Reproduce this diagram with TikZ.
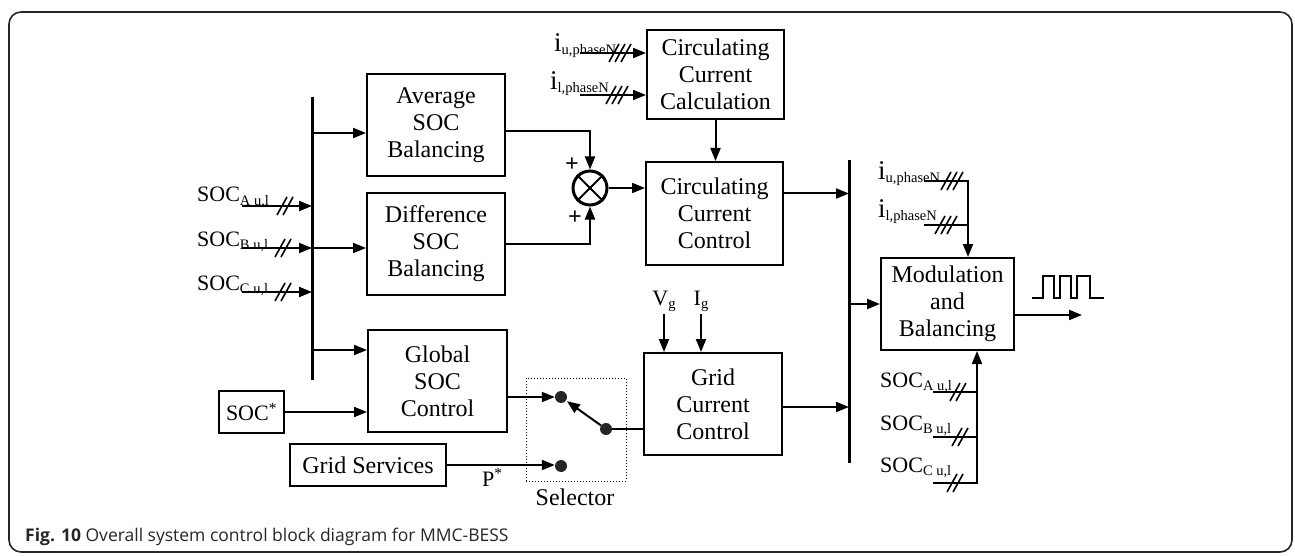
\documentclass[tikz,border=0pt]{standalone}
\usepackage{fontspec}
\setmainfont{Liberation Serif}
\newfontfamily\capfont{Open Sans}
\usetikzlibrary{arrows.meta,calc}
\tikzset{
  blk/.style={draw, line width=2pt, align=center, inner sep=0pt,
    font=\fontsize{24}{27}\selectfont},
  arr/.style={line width=2pt, -{Triangle[length=13pt,width=10pt]}},
  wire/.style={line width=2pt},
  bus/.style={line width=3pt},
  dot/.style={circle, fill=black!85, inner sep=0pt, minimum size=12pt},
  lbl/.style={inner sep=0pt, font=\fontsize{22}{22}\selectfont},
  ilbl/.style={inner sep=0pt, font=\fontsize{27}{27}\selectfont},
  hatchline/.style={line width=1.6pt}
}
\newcommand{\lowsub}[1]{\raisebox{-3pt}{\fontsize{14.5}{14.5}\selectfont #1}}
\newcommand{\hatchmarks}[3]{%
  \foreach \k [evaluate=\k as \dx using {(\k-1)*6-(#3-1)*3}] in {1,...,#3}
    \draw[hatchline] ($(#1,#2)+(\dx,0)+(-5,9)$) -- ++(10,-18);}
\begin{document}
\begin{tikzpicture}[x=1pt,y=-1pt]
\useasboundingbox (0,0) rectangle (1295,556);
\draw[line width=1.6pt, rounded corners=12pt, black!85] (9,12) rectangle (1292,552);

% left bus and SOC blocks
\coordinate (b1t) at (312,97);
\coordinate (b1b) at (312,380);
\draw[bus] (b1t) -- (b1b);
\node[blk, minimum width=138pt, minimum height=102pt] (avg) at (436,125) {Average\\SOC\\Balancing};
\node[blk, minimum width=138pt, minimum height=102pt] (diff) at (436,244) {Difference\\SOC\\Balancing};
\node[blk, minimum width=139pt, minimum height=102pt] (glob) at (437.5,381) {Global\\SOC\\Control};
\node[blk, minimum width=65pt, minimum height=42pt, font=\fontsize{22}{22}\selectfont] (socref) at (251.5,412) {SOC\textsuperscript{*}};
\node[blk, minimum width=156pt, minimum height=42pt] (gserv) at (368,465) {Grid Services};

\node[lbl, anchor=base west] (socA) at (197,202) {SOC\lowsub{A u,l}};
\node[lbl, anchor=base west] (socB) at (197,246) {SOC\lowsub{B u,l}};
\node[lbl, anchor=base west] (socC) at (197,290) {SOC\lowsub{C u,l}};
\coordinate (sa) at (242,206);
\coordinate (sb) at (242,248);
\coordinate (sc) at (242,292);
\draw[arr] (sa) -- (sa -| b1t);
\draw[arr] (sb) -- (sb -| b1t);
\draw[arr] (sc) -- (sc -| b1t);
\hatchmarks{285}{206}{2}
\hatchmarks{283}{248}{2}
\hatchmarks{283}{292}{2}

\coordinate (a0) at ([yshift=-8pt]avg.west);
\coordinate (d0) at ([yshift=-4pt]diff.west);
\coordinate (g0) at ([yshift=31pt]glob.west);
\draw[arr] (a0 -| b1t) -- (a0);
\draw[arr] (d0 -| b1t) -- (d0);
\draw[arr] (g0 -| b1t) -- (g0);
\draw[arr] (socref.east) -- (socref.east -| glob.west);

% summing junction
\node[circle, draw, line width=3pt, minimum size=34pt, inner sep=0pt] (sum) at (590,188) {};
\draw[wire] (sum.north west) -- (sum.south east);
\draw[wire] (sum.north east) -- (sum.south west);
\coordinate (a1) at ([yshift=-6pt]avg.east);
\draw[arr] (a1) -| (sum.north);
\draw[arr] (diff.east) -| (sum.south);
\node[font=\fontsize{24}{24}\selectfont\bfseries] (plus1) at (572,165) {+};
\node[font=\fontsize{24}{24}\selectfont\bfseries] (plus2) at (575,218) {+};

% circulating current
\node[blk, minimum width=137pt, minimum height=89pt] (calc) at (715.5,74.5) {Circulating\\Current\\Calculation};
\node[blk, minimum width=137pt, minimum height=103pt] (ccc) at (714.5,213.5) {Circulating\\Current\\Control};
\node[ilbl, anchor=base west] (iu) at (554,52) {i\lowsub{u,phaseN}};
\node[ilbl, anchor=base west] (il) at (550,90) {i\lowsub{l,phaseN}};
\coordinate (cu) at (580,53);
\coordinate (cl) at (580,95);
\draw[arr] (cu) -- (cu -| calc.west);
\draw[arr] (cl) -- (cl -| calc.west);
\hatchmarks{620}{53}{3}
\hatchmarks{617}{95}{3}
\draw[arr] (calc.south) -- (calc.south |- ccc.north);
\draw[arr] (sum.east) -- (sum.east -| ccc.west);

% selector
\node[draw, dotted, line width=1pt, minimum width=100pt, minimum height=103pt] (sel) at (576,429.5) {};
\node[font=\fontsize{24}{24}\selectfont] (sellbl) at (575,497) {Selector};
\node[dot] (dup) at (561,397) {};
\node[dot] (dlo) at (561,466) {};
\node[dot] (piv) at (606,429) {};
\node[lbl, anchor=base west] (pstar) at (482,486) {P\textsuperscript{*}};
\coordinate (g3) at ([yshift=-16pt]glob.east);
\draw[arr] (g3) -- (g3 -| dup.west);
\draw[arr] (gserv.east) -- (gserv.east -| dlo.west);
\draw[arr, shorten >=1pt] (piv) -- (dup);

% grid current control
\node[blk, minimum width=138pt, minimum height=102pt] (gcc) at (713,404) {Grid\\Current\\Control};
\node[lbl, anchor=base] (vg) at (664,305) {V\lowsub{g}};
\node[lbl, anchor=base] (ig) at (701,305) {I\lowsub{g}};
\draw[arr] ([yshift=-3pt]vg.south) -- (vg.south |- gcc.north);
\draw[arr] ([yshift=-3pt]ig.south) -- (ig.south |- gcc.north);
\draw[wire] (piv) -- (piv -| gcc.west);

% right bus
\coordinate (b2t) at (849,160);
\coordinate (b2b) at (849,463);
\draw[bus] (b2t) -- (b2b);
\coordinate (co) at ([yshift=20pt]ccc.east);
\coordinate (go) at ([yshift=-3pt]gcc.east);
\draw[arr] (co) -- (co -| b2t);
\draw[arr] (go) -- (go -| b2t);

% modulation
\node[blk, minimum width=133pt, minimum height=92pt] (mod) at (947.5,304) {Modulation\\and\\Balancing};
\draw[arr] (mod.west -| b2t) -- (mod.west);
\coordinate (mo) at ([yshift=-11pt]mod.east);
\coordinate (pwm) at (1082,315);
\draw[arr] (mo) -- (mo -| pwm);
\draw[line width=1.6pt] (1032,298) -- (1043,298) -- (1043,276) -- (1054,276) -- (1054,298)
  -- (1060,298) -- (1060,276) -- (1071,276) -- (1071,298) -- (1077,298) -- (1077,276)
  -- (1090,276) -- (1090,298) -- (1104,298);

\node[ilbl, anchor=base west] (riu) at (878,180) {i\lowsub{u,phaseN}};
\node[ilbl, anchor=base west] (ril) at (878,218) {i\lowsub{l,phaseN}};
\coordinate (ru) at (924,181);
\coordinate (rl) at (924,225);
\coordinate (rk) at (968,181);
\draw[arr] (ru) -- (rk) -- (rk |- mod.north);
\draw[wire] (rl) -- (rl -| rk);
\hatchmarks{952}{181}{3}
\hatchmarks{946}{225}{3}

\node[lbl, anchor=base west] (rsocA) at (880,387) {SOC\lowsub{A u,l}};
\node[lbl, anchor=base west] (rsocB) at (880,430) {SOC\lowsub{B u,l}};
\node[lbl, anchor=base west] (rsocC) at (880,472) {SOC\lowsub{C u,l}};
\coordinate (rsa) at (933,392);
\coordinate (rsb) at (933,437);
\coordinate (rsc) at (933,483);
\coordinate (rv) at (977,483);
\draw[arr] (rsc) -- (rv) -- (rv |- mod.south);
\draw[wire] (rsa) -- (rsa -| rv);
\draw[wire] (rsb) -- (rsb -| rv);
\hatchmarks{958}{392}{2}
\hatchmarks{960}{437}{2}
\hatchmarks{955}{483}{2}

% caption
\node[anchor=base west, inner sep=0pt, text=black!85, font=\capfont\fontsize{17.5}{17.5}\selectfont] (cap) at (25,541)
  {\textbf{Fig. 10} Overall system control block diagram for MMC-BESS};
\end{tikzpicture}
\end{document}
